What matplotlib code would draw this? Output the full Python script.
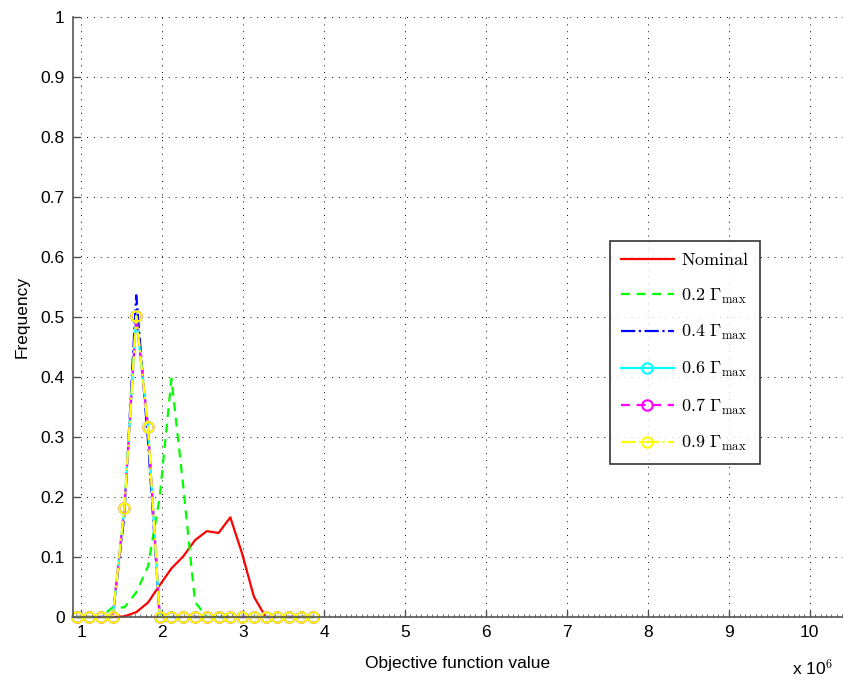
import matplotlib
matplotlib.use("Agg")
import matplotlib.pyplot as plt
from matplotlib.ticker import MultipleLocator

plt.rcParams['font.family'] = ['Liberation Sans', 'DejaVu Sans']
plt.rcParams['mathtext.fontset'] = 'cm'

# Objective function value (x 10^6), bin centres
x_vals = [0.954, 1.099, 1.245, 1.390, 1.535, 1.681, 1.826, 1.971, 2.116, 2.262,
          2.407, 2.552, 2.698, 2.843, 2.988, 3.134, 3.279, 3.424, 3.569, 3.715, 3.860]

nominal = [0, 0, 0, 0, 0.001, 0.008, 0.024, 0.053, 0.081, 0.101,
           0.128, 0.143, 0.140, 0.166, 0.106, 0.034, 0, 0, 0, 0, 0]
g02 = [0, 0, 0, 0.016, 0.016, 0.041, 0.084, 0.200, 0.397, 0.217,
       0.025, 0, 0, 0, 0, 0, 0, 0, 0, 0, 0]
g04 = [0, 0, 0, 0, 0.170, 0.536, 0.294, 0, 0, 0,
       0, 0, 0, 0, 0, 0, 0, 0, 0, 0, 0]
g06 = [0, 0, 0, 0, 0.182, 0.501, 0.317, 0, 0, 0,
       0, 0, 0, 0, 0, 0, 0, 0, 0, 0, 0]
g07 = [0, 0, 0, 0, 0.182, 0.501, 0.317, 0, 0, 0,
       0, 0, 0, 0, 0, 0, 0, 0, 0, 0, 0]
g09 = [0, 0, 0, 0, 0.182, 0.501, 0.317, 0, 0, 0,
       0, 0, 0, 0, 0, 0, 0, 0, 0, 0, 0]

labels = [r'$\mathrm{Nominal}$', r'$0.2\ \Gamma_{\max}$', r'$0.4\ \Gamma_{\max}$',
          r'$0.6\ \Gamma_{\max}$', r'$0.7\ \Gamma_{\max}$', r'$0.9\ \Gamma_{\max}$']

fig = plt.figure(figsize=(8.43, 6.81), dpi=100)
ax = fig.add_axes([73/843, 1 - 617/681, (843 - 73)/843, (617 - 16.7)/681])

lw = 1.6
ax.plot(x_vals, nominal, color='#ff0000', ls='-', lw=lw, label=labels[0], clip_on=False)
ax.plot(x_vals, g02, color='#00ff00', ls='--', lw=lw, label=labels[1], clip_on=False,
        dashes=(4, 3))
ax.plot(x_vals, g04, color='#0000ff', ls='-.', lw=lw, label=labels[2], clip_on=False)
ax.plot(x_vals, g06, color='#00ffff', ls='-', lw=lw, marker='o', ms=7.5,
        mfc='none', mew=1.5, label=labels[3], clip_on=False)
ax.plot(x_vals, g07, color='#ff00ff', ls='--', lw=lw, marker='o', ms=7.5,
        mfc='none', mew=1.5, label=labels[4], clip_on=False, dashes=(4, 3))
ax.plot(x_vals, g09, color='#ffff00', ls='-.', lw=lw, marker='o', ms=7.5,
        mfc='none', mew=1.5, label=labels[5], clip_on=False)

ax.set_xlim(0.9, 10.41)
ax.set_ylim(0, 1)
ax.xaxis.set_minor_locator(MultipleLocator(1/15))
ax.set_yticks([0, 0.1, 0.2, 0.3, 0.4, 0.5, 0.6, 0.7, 0.8, 0.9, 1])
ax.set_yticklabels(['0', '0.1', '0.2', '0.3', '0.4', '0.5', '0.6', '0.7', '0.8', '0.9', '1'])
ax.set_xticks(range(1, 11))
ax.set_xticklabels([str(i) for i in range(1, 11)])

for s in ['top', 'right']:
    ax.spines[s].set_visible(False)
for s in ['left', 'bottom']:
    ax.spines[s].set_color('#555555')
    ax.spines[s].set_linewidth(1.2)

ax.tick_params(axis='both', which='major', direction='in', length=5, width=1,
               colors='#555555', labelcolor='black', labelsize=12.5, pad=6)
ax.tick_params(axis='x', which='minor', direction='in', length=2.5, width=0.6,
               colors='#555555')
ax.tick_params(axis='y', which='minor', left=False)

ax.grid(True, which='major', color='black', linestyle=(0, (1, 6)), linewidth=0.7)
ax.set_axisbelow(True)

ax.set_xlabel('Objective function value', fontsize=12.5, labelpad=11)
ax.set_ylabel('Frequency', fontsize=12.5, labelpad=8)

fig.text(792/843, 1 - 668/681, r'x 10$^{6}$', fontsize=12.5, ha='left', va='center')

leg = ax.legend(loc='upper left', bbox_to_anchor=(610/843, 1 - 241/681),
                bbox_transform=fig.transFigure, fontsize=13, frameon=True,
                fancybox=False, edgecolor='black', handlelength=2.9,
                labelspacing=0.97, borderpad=0.62, handletextpad=0.4,
                borderaxespad=0)
leg.get_frame().set_linewidth(1.2)

fig.savefig('out.png', dpi=100)
